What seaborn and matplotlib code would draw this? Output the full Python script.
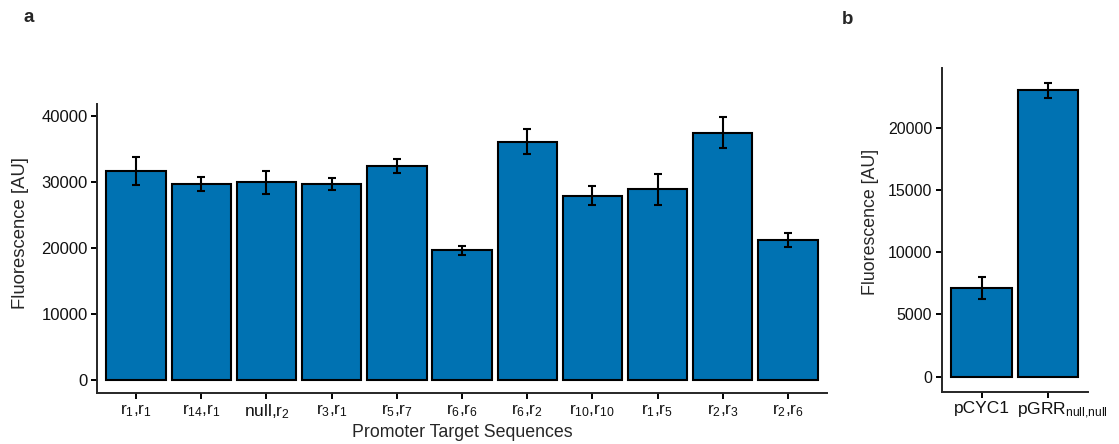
import matplotlib
matplotlib.use("Agg")
import matplotlib.pyplot as plt
import matplotlib.transforms as mtransforms
import seaborn as sns
import pandas as pd

# panel a data
promoters = [r"$\mathregular{r_{1}{,}r_{1}}$", r"$\mathregular{r_{14}{,}r_{1}}$",
             r"$\mathregular{null{,}r_{2}}$", r"$\mathregular{r_{3}{,}r_{1}}$",
             r"$\mathregular{r_{5}{,}r_{7}}$", r"$\mathregular{r_{6}{,}r_{6}}$",
             r"$\mathregular{r_{6}{,}r_{2}}$", r"$\mathregular{r_{10}{,}r_{10}}$",
             r"$\mathregular{r_{1}{,}r_{5}}$", r"$\mathregular{r_{2}{,}r_{3}}$",
             r"$\mathregular{r_{2}{,}r_{6}}$"]
fluor_a = [31600, 29700, 29900, 29700, 32400, 19600, 36100, 27900, 28900, 37400, 21200]
err_a = [2150, 1100, 1800, 950, 1050, 700, 1850, 1450, 2350, 2350, 1050]

# panel b data
controls = ["pCYC1", r"$\mathregular{pGRR_{null{,}null}}$"]
fluor_b = [7100, 22990]
err_b = [880, 630]

BLUE = "#0072B2"

sns.set_theme(style="ticks")
plt.rcParams["font.family"] = ["Liberation Sans", "DejaVu Sans"]
plt.rcParams["mathtext.fontset"] = "custom"
plt.rcParams["mathtext.rm"] = "Liberation Sans"
plt.rcParams["mathtext.it"] = "Liberation Sans"
plt.rcParams["axes.linewidth"] = 1.4
plt.rcParams["xtick.major.width"] = 1.4
plt.rcParams["ytick.major.width"] = 1.4
plt.rcParams["xtick.major.size"] = 4.3
plt.rcParams["ytick.major.size"] = 4.3
plt.rcParams["xtick.major.pad"] = 2.5
plt.rcParams["ytick.major.pad"] = 2.5

fig = plt.figure(figsize=(11.19, 4.44), dpi=100)
ax_a = fig.add_axes([0.0867, 0.1149, 0.6524, 0.651])
ax_b = fig.add_axes([0.8416, 0.1178, 0.1307, 0.728])


def draw_panel(ax, cats, vals, errs):
    df = pd.DataFrame({"cat": cats, "val": vals})
    sns.barplot(data=df, x="cat", y="val", color=BLUE, saturation=1,
                width=0.91, edgecolor="black", linewidth=1.5, errorbar=None, ax=ax)
    ax.errorbar(range(len(vals)), vals, yerr=errs, fmt="none", ecolor="black",
                elinewidth=1.5, capsize=3, capthick=1.5, zorder=5)
    ax.set_xlim(-0.6, len(vals) - 0.4)
    sns.despine(ax=ax)
    ax.tick_params(colors="black", labelcolor="#111111")


draw_panel(ax_a, promoters, fluor_a, err_a)
ax_a.set_ylim(-1990, 41800)
ax_a.set_yticks([0, 10000, 20000, 30000, 40000])
ax_a.tick_params(axis="y", labelsize=12)
ax_a.tick_params(axis="x", labelsize=12.5)
ax_a.set_xlabel("Promoter Target Sequences", fontsize=12.8, labelpad=2)
ax_a.set_ylabel("Fluorescence [AU]", fontsize=13.3)
ax_a.yaxis.set_label_coords(-0.093, 0.555)

draw_panel(ax_b, controls, fluor_b, err_b)
ax_b.set_ylim(-1200, 24750)
ax_b.set_yticks([0, 5000, 10000, 15000, 20000])
ax_b.tick_params(axis="y", labelsize=11.5)
ax_b.tick_params(axis="x", labelsize=12.5)
ax_b.set_xlabel("")
ax_b.set_ylabel("Fluorescence [AU]", fontsize=12.8)
ax_b.yaxis.set_label_coords(-0.43, 0.525)

# the long control label starts just left of its tick and runs off the figure
lbl = ax_b.get_xticklabels()[1]
lbl.set_horizontalalignment("left")
lbl.set_transform(lbl.get_transform() +
                  mtransforms.ScaledTranslation(-0.31, 0, fig.dpi_scale_trans))

fig.text(0.021, 0.96, "a", fontsize=13.5, fontweight="bold", va="center")
fig.text(0.752, 0.955, "b", fontsize=13.5, fontweight="bold", va="center")

fig.savefig("out.png", dpi=100)
